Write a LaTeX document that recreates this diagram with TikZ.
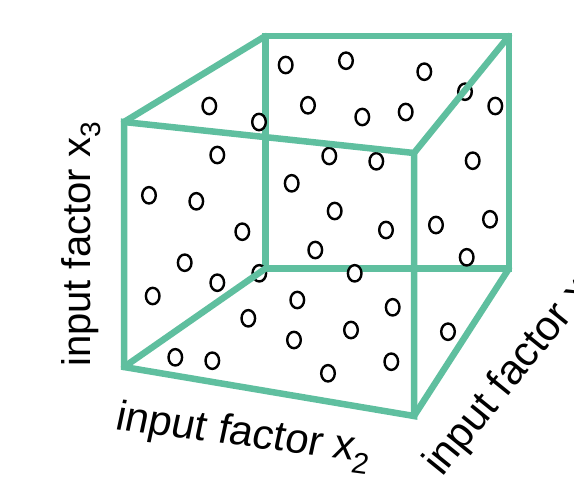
\documentclass[tikz,border=0pt]{standalone}
\usepackage{fontspec}
\setmainfont{Liberation Sans}
\definecolor{cubegreen}{RGB}{95,191,159}
\begin{document}
\begin{tikzpicture}[x=1pt,y=-1pt,
  edge/.style={draw=cubegreen,line width=6.5pt},
  dot/.style={draw=black,fill=white,line width=2.4pt},
  axislabel/.style={inner sep=0pt,font=\fontsize{40}{48}\selectfont}]
\useasboundingbox (0,0) rectangle (574,480);
% cube corners
\coordinate (ftl) at (124,122);
\coordinate (ftr) at (414,153);
\coordinate (fbr) at (414,416);
\coordinate (fbl) at (124,367);
\coordinate (btl) at (265.5,36);
\coordinate (btr) at (509,36);
\coordinate (bbr) at (509,268.5);
\coordinate (bbl) at (265.5,268.5);
% back face
\draw[edge,line join=miter] (btl) -- (btr) -- (bbr) -- (bbl) -- cycle;
% sample points
\foreach \px/\py in {285.7/65,346/60.7,424.3/71.7,465/91.7,495.3/106,308/105.3,
  362.3/117,405.7/112,259/122,209.3/106,217.3/155,329.3/156,376.3/161.3,
  472.7/160.7,291.7/183.3,149/195.3,196.3/201.3,242.3/231.7,334.7/211,
  386/230,315.3/250,436/225,490/219.3,466.7/257.3,184.7/262.7,259.3/273.3,
  217.3/282.7,152.7/296,354.7/273.3,297.3/300,392.7/307.3,248.3/318.3,
  351/330,294/340,391.3/361.7,328/373.3,448/331.7,175.3/357.3,212.3/360.7}
  \draw[dot] (\px,\py) ellipse [x radius=6.8pt, y radius=8.2pt];
% front face and connecting edges
\draw[edge,line cap=round] (ftl) -- (btl);
\draw[edge,line cap=round] (ftr) -- (btr);
\draw[edge,line cap=round] (fbr) -- (bbr);
\draw[edge,line cap=round] (fbl) -- (bbl);
\draw[edge,line join=miter] (ftl) -- (ftr) -- (fbr) -- (fbl) -- cycle;
% axis labels
\node[axislabel,rotate=90,anchor=base west] (x3) at (90,367) {input factor x\textsubscript{3}};
\node[axislabel,font=\fontsize{42}{50}\selectfont,rotate=-7.5,xslant=0.08,anchor=base west] (x2) at (114,429) {input factor x\textsubscript{2}};
\node[axislabel,font=\fontsize{42}{50}\selectfont,rotate=51,anchor=base west] (x1) at (442,478) {input factor x\textsubscript{1}};
\end{tikzpicture}
\end{document}
